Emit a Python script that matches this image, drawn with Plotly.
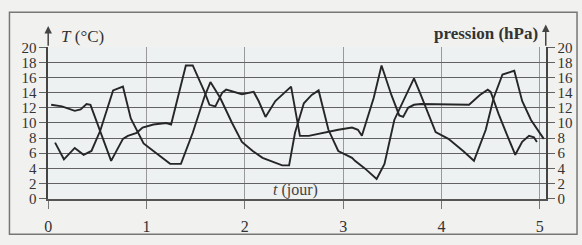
import plotly.graph_objects as go

# Courbe 1 (axe de gauche, T en °C)
t_temp = [0.03, 0.14, 0.27, 0.33, 0.39, 0.43, 0.64, 0.76, 0.81, 0.90, 0.96, 1.07, 1.20, 1.25,
          1.40, 1.47, 1.59, 1.64, 1.70, 1.77, 1.81, 1.89, 1.97, 2.09, 2.14, 2.21, 2.31, 2.47,
          2.56, 2.65, 2.85, 2.95, 3.09, 3.15, 3.19, 3.31, 3.39, 3.49, 3.57, 3.61, 3.66, 3.72,
          3.79, 4.28, 4.39, 4.47, 4.50, 4.58, 4.67, 4.75, 4.82, 4.89, 4.94, 4.97]
v_temp = [12.4, 12.2, 11.6, 11.8, 12.5, 12.4, 5.0, 7.9, 8.3, 8.7, 9.4, 9.8, 10.0, 9.8,
          17.6, 17.6, 14.1, 12.4, 12.2, 14.0, 14.4, 14.1, 13.8, 14.1, 12.9, 10.8, 12.9, 14.8,
          8.3, 8.3, 8.9, 9.1, 9.4, 9.1, 8.3, 13.3, 17.6, 13.7, 11.0, 10.8, 12.0, 12.4,
          12.5, 12.4, 13.7, 14.4, 14.1, 11.2, 8.3, 5.8, 7.5, 8.3, 8.1, 7.5]

# Courbe 2 (axe de droite, pression en hPa)
t_pres = [0.07, 0.16, 0.27, 0.36, 0.44, 0.53, 0.66, 0.76, 0.84, 0.93, 0.97, 1.07, 1.16, 1.24,
          1.35, 1.47, 1.59, 1.65, 1.75, 1.87, 1.97, 2.08, 2.18, 2.26, 2.38, 2.45, 2.51, 2.60,
          2.68, 2.75, 2.85, 2.95, 3.09, 3.12, 3.22, 3.34, 3.42, 3.52, 3.61, 3.72, 3.78, 3.94,
          4.07, 4.22, 4.33, 4.45, 4.53, 4.62, 4.74, 4.82, 4.91, 5.00, 5.04]
v_pres = [7.4, 5.2, 6.7, 5.8, 6.3, 9.0, 14.3, 14.8, 10.6, 8.2, 7.3, 6.3, 5.4, 4.6,
          4.6, 8.7, 13.5, 15.4, 13.3, 10.0, 7.5, 6.3, 5.4, 5.0, 4.4, 4.4, 8.7, 12.6,
          13.7, 14.3, 9.1, 6.3, 5.4, 5.0, 4.0, 2.6, 4.6, 10.4, 12.9, 15.9, 14.0, 8.8,
          7.9, 6.3, 5.0, 9.1, 13.3, 16.4, 16.9, 12.9, 10.4, 8.7, 7.9]

x_ticks = [0, 1, 2, 3, 4, 5]
y_ticks = [0, 2, 4, 6, 8, 10, 12, 14, 16, 18, 20]

W, H = 582, 245
def px(x):
    return x / W
def py(y):
    return 1 - y / H

FONT = "Liberation Serif"
INK = "#262626"
GRID = "#626262"

fig = go.Figure()
fig.add_trace(go.Scatter(x=t_temp, y=v_temp, mode="lines",
                         line=dict(color=INK, width=1.9), yaxis="y", showlegend=False))
fig.add_trace(go.Scatter(x=t_pres, y=v_pres, mode="lines",
                         line=dict(color=INK, width=1.9), yaxis="y2", showlegend=False))

fig.update_layout(
    width=W, height=H,
    margin=dict(l=0, r=0, t=0, b=0),
    paper_bgcolor="#f1f1ef",
    plot_bgcolor="#edf1f2",
    font=dict(family=FONT, size=15, color="#333333"),
    xaxis=dict(
        domain=[px(44.5), px(545.5)], range=[0, 5.06],
        tickvals=x_ticks, ticktext=[str(v) for v in x_ticks],
        tickfont=dict(size=16),
        showgrid=True, gridcolor="#9a9a9a", gridwidth=1,
        ticks="outside", ticklen=8, tickcolor="#777777", tickwidth=1,
        ticklabelstandoff=4,
        showline=True, linecolor="#555555", linewidth=2,
        zeroline=False, fixedrange=True,
    ),
    yaxis=dict(
        domain=[py(204), py(42)], range=[0, 20],
        tickvals=y_ticks, ticktext=[str(v) for v in y_ticks],
        showgrid=True, gridcolor=GRID, gridwidth=1.3,
        ticks="outside", ticklen=7, tickcolor=GRID, tickwidth=1.3,
        showline=True, linecolor="#444444", linewidth=1.5,
        zeroline=False, fixedrange=True,
    ),
    yaxis2=dict(
        overlaying="y", side="right", anchor="x", range=[0, 20],
        tickvals=y_ticks, ticktext=[str(v) for v in y_ticks],
        showgrid=False,
        ticks="outside", ticklen=7, tickcolor=GRID, tickwidth=1.3,
        showline=True, linecolor="#444444", linewidth=1.5,
        zeroline=False, fixedrange=True,
    ),
    shapes=[
        dict(type="rect", xref="paper", yref="paper",
             x0=px(5.5), x1=px(577), y0=py(242), y1=py(4.5),
             line=dict(color="#777777", width=1.5), fillcolor="rgba(0,0,0,0)", layer="below"),
    ],
    annotations=[
        dict(x=0, y=22.8, xref="x", yref="y", ax=0, ay=20, axref="x", ayref="y",
             showarrow=True, arrowhead=2, arrowsize=1, arrowwidth=1.5, arrowcolor="#444444", text=""),
        dict(x=5.06, y=23.0, xref="x", yref="y", ax=5.06, ay=20, axref="x", ayref="y",
             showarrow=True, arrowhead=2, arrowsize=1, arrowwidth=1.5, arrowcolor="#444444", text=""),
        dict(x=px(55), y=py(30), xref="paper", yref="paper", xanchor="left", yanchor="middle",
             text="<i>T</i> (°C)", showarrow=False, font=dict(family=FONT, size=17, color="#333333")),
        dict(x=px(540), y=py(27), xref="paper", yref="paper", xanchor="right", yanchor="middle",
             text="<b>pression (hPa)</b>", showarrow=False, font=dict(family=FONT, size=17, color="#333333")),
        dict(x=2.52, y=1.1, xref="x", yref="y", xanchor="center", yanchor="middle",
             text="<i>t</i> (jour)", showarrow=False, font=dict(family=FONT, size=16, color="#444444")),
    ],
)

fig.write_html(
    "out.html",
    config={"displayModeBar": False},
    post_script="document.body.style.margin='0px';document.body.style.overflow='hidden';",
)
